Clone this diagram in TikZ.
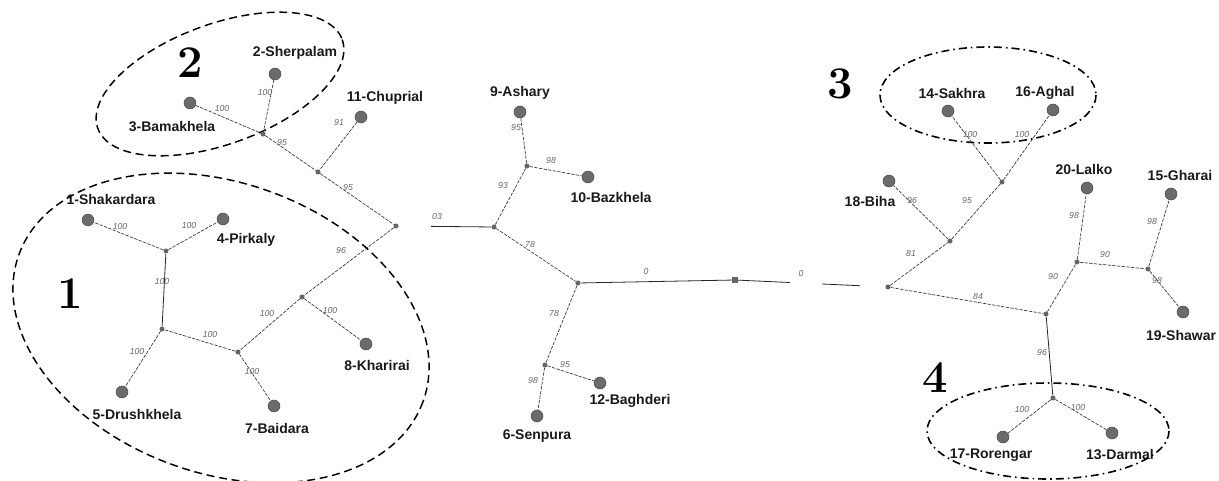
\documentclass[tikz,border=0pt]{standalone}
\usepackage{fontspec}
\newfontfamily\arialf{Liberation Sans}
\begin{document}
\begin{tikzpicture}[x=0.75pt,y=-0.75pt,
 leaf/.style={circle,fill=black!58,draw=black!70,line width=0.4pt,minimum size=9pt,inner sep=0pt},
 junc/.style={circle,fill=black!60,minimum size=3.8pt,inner sep=0pt},
 sqj/.style={rectangle,fill=black!60,minimum size=4pt,inner sep=0pt},
 edg/.style={draw=black!80,line width=0.5pt,dash pattern=on 2.5pt off 1pt},
 sedg/.style={draw=black!85,line width=0.6pt},
 lab/.style={font=\arialf\bfseries\fontsize{10.5}{12}\selectfont,text=black!90,inner sep=0pt},
 elab/.style={font=\arialf\itshape\fontsize{6.5}{7}\selectfont,text=black!60,inner sep=0pt},
 grp/.style={font=\bfseries\fontsize{34}{34}\selectfont,inner sep=0pt},
 clus/.style={draw=black,line width=1.1pt,dash pattern=on 6pt off 3.5pt},
 clusdd/.style={draw=black,line width=1.2pt,dash pattern=on 6pt off 3pt on 1.2pt off 3pt},
]
\useasboundingbox (0,0) rectangle (1219,481);

% cluster outlines
\draw[clus,rotate around={-20:(221,328)}] (221,328) ellipse [x radius=215, y radius=145];
\draw[clus,rotate around={20:(220,84)}] (220,84) ellipse [x radius=130, y radius=60];
\draw[clusdd] (988,95) ellipse [x radius=108, y radius=48];
\draw[clusdd] (1048,431) ellipse [x radius=121, y radius=48];

% group numbers
\node[grp] (g1) at (70,294) {1};
\node[grp] (g2) at (190,63) {2};
\node[grp] (g3) at (840,84) {3};
\node[grp] (g4) at (935,378) {4};

% nodes: left
\node[leaf] (n2) at (275,74) {};
\node[leaf] (n3) at (190,103) {};
\node[leaf] (n11) at (361,117) {};
\node[junc] (jA) at (263,134) {};
\node[junc] (jB) at (318,172) {};
\node[junc] (jC) at (396,226) {};
\node[leaf] (n1) at (88,220) {};
\node[leaf] (n4) at (223,219) {};
\node[junc] (jE) at (166,251) {};
\node[junc] (jF) at (162,329) {};
\node[leaf] (n5) at (122,392) {};
\node[junc] (jG) at (238,352) {};
\node[leaf] (n7) at (274,406) {};
\node[junc] (jH) at (302,297) {};
\node[leaf] (n8) at (366,344) {};
% middle
\node[junc] (jD) at (494,227) {};
\node[junc] (jI) at (527,166) {};
\node[leaf] (n9) at (520,112) {};
\node[leaf] (n10) at (588,177) {};
\node[junc] (jK) at (578,283) {};
\node[junc] (jL) at (545,365) {};
\node[leaf] (n6) at (537,416) {};
\node[leaf] (n12) at (600,383) {};
\node[sqj] (jM) at (735,280) {};
% right
\node[junc] (jN) at (888,287) {};
\node[junc] (jP) at (950,241) {};
\node[leaf] (n18) at (889,181) {};
\node[junc] (jQ) at (1002,182) {};
\node[leaf] (n14) at (948,111) {};
\node[leaf] (n16) at (1053,110) {};
\node[junc] (jR) at (1046,314) {};
\node[junc] (jS) at (1077,262) {};
\node[leaf] (n20) at (1087,188) {};
\node[junc] (jT) at (1148,269) {};
\node[leaf] (n15) at (1171,194) {};
\node[leaf] (n19) at (1183,312) {};
\node[junc] (jU) at (1053,398) {};
\node[leaf] (n17) at (1003,437) {};
\node[leaf] (n13) at (1112,433) {};

% edges
\foreach \a/\b in {n2/jA,n3/jA,jA/jB,n11/jB,jB/jC,jC/jH,jH/n8,jH/jG,jG/n7,jG/jF,jF/n5,jE/n1,jE/n4,
  jD/jI,jI/n9,jI/n10,jD/jK,jK/jL,jL/n6,jL/n12,
  jN/jP,jP/n18,jP/jQ,jQ/n14,jQ/n16,jN/jR,jR/jS,jS/n20,jS/jT,jT/n15,jT/n19,jU/n17,jU/n13}
  \draw[edg] (\a) -- (\b);
\draw[sedg] (jF) -- (jE);
\draw[sedg] (jR) -- (jU);
\draw[sedg] (jK) -- (jM);
\draw[sedg,dash pattern=on 45pt off 100pt] (jD) -- (jC);
\draw[sedg,dash pattern=on 39pt off 24pt on 28.5pt off 60pt] (jM) -- (jN);

% leaf labels
\node[lab] (t2) at (295,53) {2-Sherpalam};
\node[lab] (t3) at (172,127) {3-Bamakhela};
\node[lab] (t11) at (385,98) {11-Chuprial};
\node[lab] (t1) at (111,199) {1-Shakardara};
\node[lab] (t4) at (246,240) {4-Pirkaly};
\node[lab] (t5) at (137,414) {5-Drushkhela};
\node[lab] (t7) at (277,428) {7-Baidara};
\node[lab] (t8) at (377,365) {8-Kharirai};
\node[lab] (t9) at (520,93) {9-Ashary};
\node[lab] (t10) at (611,197) {10-Bazkhela};
\node[lab] (t6) at (537,436) {6-Senpura};
\node[lab] (t12) at (630,401) {12-Baghderi};
\node[lab] (t14) at (952,93) {14-Sakhra};
\node[lab] (t16) at (1045,93) {16-Aghal};
\node[lab] (t18) at (870,201) {18-Biha};
\node[lab] (t20) at (1084,169) {20-Lalko};
\node[lab] (t15) at (1180,175) {15-Gharai};
\node[lab] (t19) at (1181,335) {19-Shawar};
\node[lab] (t17) at (991,455) {17-Rorengar};
\node[lab] (t13) at (1120,455) {13-Darmal};

% edge labels
\foreach \x/\y/\t [count=\i] in {222/109/100,265/93/100,282/143/95,339/123/91,348/188/95,341/251/96,
  120/227/100,189/226/100,162/282/100,137/352/100,210/335/100,252/372/100,267/314/100,330/311/100,
  437/217/03,516/128/95,551/161/98,503/186/93,530/245/78,554/314/78,565/365/95,533/381/98,
  646/272/0,801/274/0,970/135/100,1022/135/100,912/201/96,967/201/95,1074/216/98,1152/222/98,
  911/254/81,1053/277/90,1105/255/90,1157/281/98,978/297/84,1042/353/96,1022/410/100,1078/408/100}
  \node[elab] (el\i) at (\x,\y) {\t};
\end{tikzpicture}
\end{document}
